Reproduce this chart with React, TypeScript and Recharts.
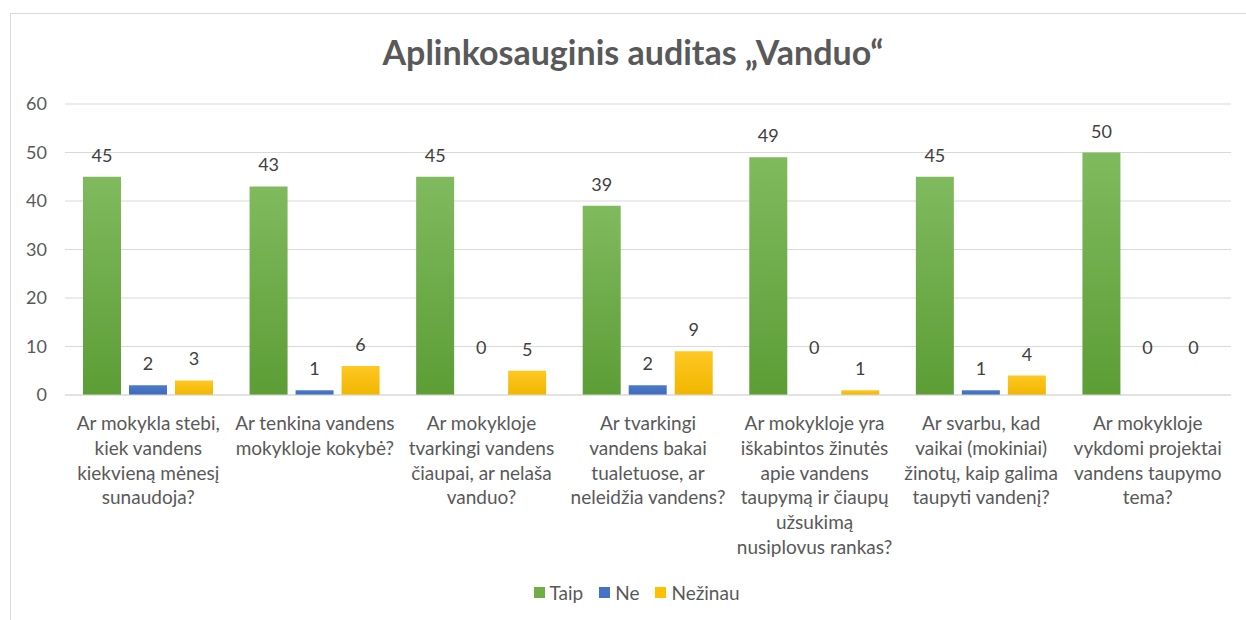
import { BarChart, Bar, XAxis, YAxis, CartesianGrid, Legend, LabelList } from "recharts";

const categories = [
  "Ar mokykla stebi,\nkiek vandens\nkiekvieną mėnesį\nsunaudoja?",
  "Ar tenkina vandens\nmokykloje kokybė?",
  "Ar mokykloje\ntvarkingi vandens\nčiaupai, ar nelaša\nvanduo?",
  "Ar tvarkingi\nvandens bakai\ntualetuose, ar\nneleidžia vandens?",
  "Ar mokykloje yra\niškabintos žinutės\napie vandens\ntaupymą ir čiaupų\nužsukimą\nnusiplovus rankas?",
  "Ar svarbu, kad\nvaikai (mokiniai)\nžinotų, kaip galima\ntaupyti vandenį?",
  "Ar mokykloje\nvykdomi projektai\nvandens taupymo\ntema?",
];
const taip = [45, 43, 45, 39, 49, 45, 50];
const ne = [2, 1, 0, 2, 0, 1, 0];
const nezinau = [3, 6, 5, 9, 1, 4, 0];
const yTicks = [0, 10, 20, 30, 40, 50, 60];

const data = categories.map((c, i) => ({ name: c, Taip: taip[i], Ne: ne[i], Nezinau: nezinau[i] }));

const FONT = "Lato, 'Open Sans', sans-serif";
const TEXT = "#595959";

const series = [
  { key: "Taip", label: "Taip", top: "#80ba5e", bottom: "#5c9d35", swatch: "#70ad47" },
  { key: "Ne", label: "Ne", top: "#4d7bcb", bottom: "#3d69ba", swatch: "#4472c4" },
  { key: "Nezinau", label: "Nežinau", top: "#ffc823", bottom: "#f0b600", swatch: "#ffc000" },
];

function CategoryTick(props: any) {
  const { x, y, payload } = props;
  const lines = String(payload.value).split("\n");
  return (
    <text x={x} y={y} textAnchor="middle" fill={TEXT} fontSize={19} fontFamily={FONT}>
      {lines.map((l, i) => (
        <tspan key={i} x={x} dy={i === 0 ? 27 : 24.8}>
          {l}
        </tspan>
      ))}
    </text>
  );
}

function ValueLabel(props: any) {
  const { x, y, width, value } = props;
  const lift = Number(value) === 0 ? 41 : 15;
  return (
    <text x={x + width / 2} y={y - lift} textAnchor="middle" fill="#404040" fontSize={18} fontFamily={FONT}>
      {value}
    </text>
  );
}

function renderLegend() {
  return (
    <div style={{ display: "flex", justifyContent: "center", alignItems: "center", height: 55, paddingLeft: 58 }}>
      {series.map((s) => (
        <div key={s.key} style={{ display: "flex", alignItems: "center", marginRight: 16 }}>
          <span style={{ width: 11, height: 11, background: s.swatch, display: "inline-block", marginRight: 5 }} />
          <span style={{ fontFamily: FONT, fontSize: 19, color: TEXT }}>{s.label}</span>
        </div>
      ))}
    </div>
  );
}

export default function App() {
  return (
    <div style={{ position: "absolute", left: 0, top: 0, width: 1246, height: 620, overflow: "hidden", background: "#fff" }}>
      <div
        style={{
          position: "absolute",
          left: 10,
          top: 13,
          width: 1260,
          height: 640,
          border: "1px solid #d9d9d9",
        }}
      />
      <div
        style={{
          position: "absolute",
          left: 0,
          top: 31,
          width: 1266,
          textAlign: "center",
          fontFamily: FONT,
          fontWeight: 700,
          fontSize: 34,
          color: TEXT,
        }}
      >
        Aplinkosauginis auditas „Vanduo“
      </div>
      <div style={{ position: "absolute", left: 0, top: 0 }}>
        <BarChart
          width={1246}
          height={620}
          data={data}
          margin={{ top: 104, right: 15, left: 0, bottom: 0 }}
          barSize={38}
          barGap={8}
        >
          <defs>
            {series.map((s) => (
              <linearGradient key={s.key} id={`grad-${s.key}`} x1="0" y1="0" x2="0" y2="1">
                <stop offset="0%" stopColor={s.top} />
                <stop offset="100%" stopColor={s.bottom} />
              </linearGradient>
            ))}
          </defs>
          <CartesianGrid vertical={false} stroke="#d9d9d9" />
          <XAxis
            dataKey="name"
            interval={0}
            height={170}
            tickLine={false}
            axisLine={{ stroke: "#d9d9d9" }}
            tick={<CategoryTick />}
          />
          <YAxis
            domain={[0, 60]}
            ticks={yTicks}
            width={65}
            axisLine={false}
            tickLine={false}
            tickMargin={12}
            tick={{ fill: TEXT, fontSize: 18, fontFamily: FONT }}
          />
          <Legend verticalAlign="bottom" height={55} content={renderLegend} />
          {series.map((s) => (
            <Bar
              key={s.key}
              dataKey={s.key}
              name={s.label}
              fill={`url(#grad-${s.key})`}
              minPointSize={0.1}
              isAnimationActive={false}
            >
              <LabelList dataKey={s.key} content={<ValueLabel />} />
            </Bar>
          ))}
        </BarChart>
      </div>
    </div>
  );
}
